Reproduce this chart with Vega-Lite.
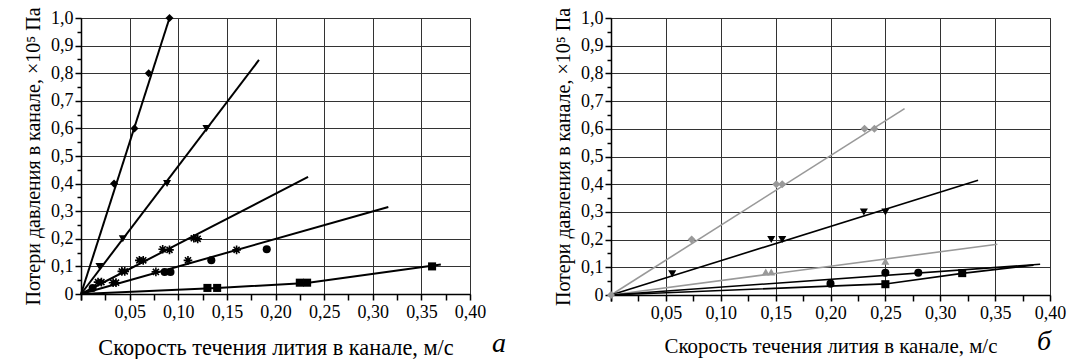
{
  "$schema": "https://vega.github.io/schema/vega-lite/v6.json",
  "padding": {"left": 22, "top": 6, "right": 0, "bottom": 0},
  "autosize": {"type": "pad"},
  "config": {
    "font": "Liberation Serif",
    "view": {"stroke": "#222", "strokeWidth": 1},
    "axis": {
      "labelFont": "Liberation Serif", "labelFontSize": 18, "labelColor": "#000",
      "titleFont": "Liberation Serif", "titleFontWeight": "normal", "titleColor": "#000",
      "domainColor": "#000", "domainWidth": 1.5, "tickColor": "#000", "tickWidth": 1.5,
      "gridColor": "#333", "gridWidth": 1, "labelOverlap": false, "labelBound": false, "labelFlush": false
    },
    "title": {"font": "Liberation Serif", "fontStyle": "italic", "fontWeight": "normal", "fontSize": 28, "color": "#000"}
  },
  "datasets": {
    "pts": [
      {"panel": "a", "series": "a1", "x": 0.034, "y": 0.40},
      {"panel": "a", "series": "a1", "x": 0.055, "y": 0.60},
      {"panel": "a", "series": "a1", "x": 0.0696, "y": 0.80},
      {"panel": "a", "series": "a1", "x": 0.091, "y": 1.00},
      {"panel": "a", "series": "a2", "x": 0.019, "y": 0.10},
      {"panel": "a", "series": "a2", "x": 0.043, "y": 0.20},
      {"panel": "a", "series": "a2", "x": 0.0885, "y": 0.40},
      {"panel": "a", "series": "a2", "x": 0.129, "y": 0.60},
      {"panel": "a", "series": "a3", "x": 0.0175, "y": 0.043},
      {"panel": "a", "series": "a3", "x": 0.021, "y": 0.043},
      {"panel": "a", "series": "a3", "x": 0.033, "y": 0.041},
      {"panel": "a", "series": "a3", "x": 0.036, "y": 0.041},
      {"panel": "a", "series": "a3", "x": 0.042, "y": 0.082},
      {"panel": "a", "series": "a3", "x": 0.045, "y": 0.082},
      {"panel": "a", "series": "a3", "x": 0.060, "y": 0.122},
      {"panel": "a", "series": "a3", "x": 0.064, "y": 0.122},
      {"panel": "a", "series": "a3", "x": 0.084, "y": 0.162},
      {"panel": "a", "series": "a3", "x": 0.091, "y": 0.160},
      {"panel": "a", "series": "a3", "x": 0.116, "y": 0.202},
      {"panel": "a", "series": "a3", "x": 0.120, "y": 0.200},
      {"panel": "a", "series": "a3", "x": 0.077, "y": 0.080},
      {"panel": "a", "series": "a3", "x": 0.110, "y": 0.122},
      {"panel": "a", "series": "a3", "x": 0.160, "y": 0.160},
      {"panel": "a", "series": "a4", "x": 0.012, "y": 0.022},
      {"panel": "a", "series": "a4", "x": 0.086, "y": 0.080},
      {"panel": "a", "series": "a4", "x": 0.092, "y": 0.080},
      {"panel": "a", "series": "a4", "x": 0.134, "y": 0.122},
      {"panel": "a", "series": "a4", "x": 0.191, "y": 0.162},
      {"panel": "a", "series": "a5", "x": 0.130, "y": 0.022},
      {"panel": "a", "series": "a5", "x": 0.140, "y": 0.022},
      {"panel": "a", "series": "a5", "x": 0.225, "y": 0.041},
      {"panel": "a", "series": "a5", "x": 0.2325, "y": 0.041},
      {"panel": "a", "series": "a5", "x": 0.361, "y": 0.100},
      {"panel": "b", "series": "b1", "x": 0.0, "y": 0.0},
      {"panel": "b", "series": "b1", "x": 0.0735, "y": 0.20},
      {"panel": "b", "series": "b1", "x": 0.1506, "y": 0.40},
      {"panel": "b", "series": "b1", "x": 0.156, "y": 0.40},
      {"panel": "b", "series": "b1", "x": 0.231, "y": 0.60},
      {"panel": "b", "series": "b1", "x": 0.240, "y": 0.60},
      {"panel": "b", "series": "b2", "x": 0.0558, "y": 0.077},
      {"panel": "b", "series": "b2", "x": 0.146, "y": 0.20},
      {"panel": "b", "series": "b2", "x": 0.156, "y": 0.20},
      {"panel": "b", "series": "b2", "x": 0.2304, "y": 0.30},
      {"panel": "b", "series": "b2", "x": 0.250, "y": 0.30},
      {"panel": "b", "series": "b3", "x": 0.141, "y": 0.083},
      {"panel": "b", "series": "b3", "x": 0.146, "y": 0.083},
      {"panel": "b", "series": "b3", "x": 0.250, "y": 0.122},
      {"panel": "b", "series": "b4", "x": 0.200, "y": 0.041},
      {"panel": "b", "series": "b4", "x": 0.250, "y": 0.080},
      {"panel": "b", "series": "b4", "x": 0.280, "y": 0.080},
      {"panel": "b", "series": "b5", "x": 0.250, "y": 0.039},
      {"panel": "b", "series": "b5", "x": 0.320, "y": 0.079}
    ],
    "lines": [
      {"panel": "a", "series": "a1", "x": 0.0, "y": 0.0},
      {"panel": "a", "series": "a1", "x": 0.091, "y": 1.0},
      {"panel": "a", "series": "a2", "x": 0.0, "y": 0.0},
      {"panel": "a", "series": "a2", "x": 0.183, "y": 0.848},
      {"panel": "a", "series": "a3", "x": 0.0, "y": 0.0},
      {"panel": "a", "series": "a3", "x": 0.2335, "y": 0.424},
      {"panel": "a", "series": "a4", "x": 0.0, "y": 0.0},
      {"panel": "a", "series": "a4", "x": 0.316, "y": 0.315},
      {"panel": "a", "series": "a5", "x": 0.0, "y": 0.0},
      {"panel": "a", "series": "a5", "x": 0.140, "y": 0.022},
      {"panel": "a", "series": "a5", "x": 0.232, "y": 0.040},
      {"panel": "a", "series": "a5", "x": 0.370, "y": 0.107},
      {"panel": "b", "series": "b1", "x": 0.0, "y": 0.0},
      {"panel": "b", "series": "b1", "x": 0.2675, "y": 0.673},
      {"panel": "b", "series": "b2", "x": 0.0, "y": 0.0},
      {"panel": "b", "series": "b2", "x": 0.3345, "y": 0.414},
      {"panel": "b", "series": "b3", "x": 0.0, "y": 0.0},
      {"panel": "b", "series": "b3", "x": 0.352, "y": 0.183},
      {"panel": "b", "series": "b4", "x": 0.0, "y": 0.0},
      {"panel": "b", "series": "b4", "x": 0.391, "y": 0.111},
      {"panel": "b", "series": "b5", "x": 0.0, "y": 0.0},
      {"panel": "b", "series": "b5", "x": 0.250, "y": 0.040},
      {"panel": "b", "series": "b5", "x": 0.320, "y": 0.078},
      {"panel": "b", "series": "b5", "x": 0.385, "y": 0.108}
    ]
  },
  "hconcat": [
    {
      "width": 389, "height": 276,
      "title": {"text": "а", "orient": "bottom", "anchor": "end", "frame": "group", "dx": 36, "offset": -28},
      "resolve": {"axis": {"x": "independent", "y": "independent"}},
      "layer": [
        {
          "data": {"name": "lines"},
          "transform": [{"filter": "datum.panel == 'a'"}],
          "mark": {"type": "line", "strokeWidth": 2, "clip": false, "color": "#000"},
          "encoding": {
            "x": {"field": "x", "type": "quantitative", "scale": {"domain": [0, 0.4], "nice": false},
              "axis": {"orient": "bottom", "title": null, "labels": false, "grid": false, "domain": false, "tickSize": 6,
                "values": [0,0.025,0.075,0.125,0.175,0.225,0.275,0.325,0.375]}},
            "y": {"field": "y", "type": "quantitative", "scale": {"domain": [0, 1], "nice": false},
              "axis": {"orient": "left", "title": null, "labels": false, "grid": false, "domain": false, "tickSize": 4,
                "values": [0.05,0.15,0.25,0.35,0.45,0.55,0.65,0.75,0.85,0.95]}},
            "detail": {"field": "series"}
          }
        },
        {
          "data": {"name": "pts"},
          "transform": [{"filter": "datum.panel == 'a' && datum.series == 'a3'"}],
          "mark": {"type": "point", "filled": false, "size": 75, "strokeWidth": 1.6, "opacity": 1, "color": "#000",
            "shape": "M-1,0L1,0M0,-1L0,1M-0.7,-0.7L0.7,0.7M-0.7,0.7L0.7,-0.7"},
          "encoding": {
            "x": {"field": "x", "type": "quantitative", "axis": null},
            "y": {"field": "y", "type": "quantitative", "axis": null}
          }
        },
        {
          "data": {"name": "pts"},
          "transform": [{"filter": "datum.panel == 'a' && datum.series != 'a3'"}],
          "mark": {"type": "point", "filled": true, "size": 65, "opacity": 1, "color": "#000"},
          "encoding": {
            "x": {"field": "x", "type": "quantitative",
              "axis": {
                "orient": "bottom", "labelFont": "Liberation Serif", "labelFlush": false,
                "title": "Скорость течения лития в канале, м/с", "titleFontSize": 22.3,
                "values": [0,0.05,0.1,0.15,0.2,0.25,0.3,0.35,0.4],
                "labelExpr": "datum.value == 0 ? '' : replace(format(datum.value, '.2f'), '.', ',')",
                "grid": true, "tickSize": 6, "labelPadding": 3, "titlePadding": 15
              }},
            "y": {"field": "y", "type": "quantitative",
              "axis": {
                "orient": "left", "labelFont": "Liberation Serif", "labelFlush": false,
                "title": "Потери давления в канале, ×10⁵ Па", "titleFontSize": 20,
                "values": [0,0.1,0.2,0.3,0.4,0.5,0.6,0.7,0.8,0.9,1.0],
                "labelExpr": "datum.value == 0 ? '0' : replace(format(datum.value, '.1f'), '.', ',')",
                "grid": true, "tickSize": 6, "labelPadding": 2, "titlePadding": 7
              }},
            "shape": {"field": "series", "type": "nominal", "legend": null,
              "scale": {"domain": ["a1","a2","a4","a5"], "range": ["diamond","triangle-down","circle","square"]}}
          }
        }
      ]
    },
    {
      "width": 439, "height": 277,
      "title": {"text": "б", "orient": "bottom", "anchor": "end", "frame": "group", "dx": 1, "offset": -28},
      "resolve": {"axis": {"x": "independent", "y": "independent"}, "scale": {"color": "independent", "shape": "independent"}},
      "layer": [
        {
          "data": {"name": "lines"},
          "transform": [{"filter": "datum.panel == 'b'"}],
          "mark": {"type": "line", "clip": false},
          "encoding": {
            "x": {"field": "x", "type": "quantitative", "scale": {"domain": [0, 0.4], "nice": false},
              "axis": {"orient": "bottom", "title": null, "labels": false, "grid": false, "domain": false, "tickSize": 6,
                "values": [0,0.025,0.075,0.125,0.175,0.225,0.275,0.325,0.375]}},
            "y": {"field": "y", "type": "quantitative", "scale": {"domain": [0, 1], "nice": false},
              "axis": {"orient": "left", "title": null, "labels": false, "grid": false, "domain": false, "tickSize": 4,
                "values": [0.05,0.15,0.25,0.35,0.45,0.55,0.65,0.75,0.85,0.95]}},
            "detail": {"field": "series"},
            "color": {"field": "series", "type": "nominal", "legend": null,
              "scale": {"domain": ["b1","b2","b3","b4","b5"], "range": ["#999","#000","#999","#000","#000"]}},
            "strokeWidth": {"field": "series", "type": "nominal", "legend": null,
              "scale": {"domain": ["b1","b2","b3","b4","b5"], "range": [1.6,1.6,1.6,2.2,2.2]}}
          }
        },
        {
          "data": {"name": "pts"},
          "transform": [{"filter": "datum.panel == 'b'"}],
          "mark": {"type": "point", "filled": true, "size": 65, "opacity": 1},
          "encoding": {
            "x": {"field": "x", "type": "quantitative",
              "axis": {
                "orient": "bottom", "labelFont": "Liberation Serif", "labelFlush": false,
                "title": "Скорость течения лития в канале, м/с", "titleFontSize": 20.9,
                "values": [0,0.05,0.1,0.15,0.2,0.25,0.3,0.35,0.4],
                "labelExpr": "datum.value == 0 ? '' : replace(format(datum.value, '.2f'), '.', ',')",
                "grid": true, "tickSize": 6, "labelPadding": 3, "titlePadding": 13
              }},
            "y": {"field": "y", "type": "quantitative",
              "axis": {
                "orient": "left", "labelFont": "Liberation Serif", "labelFlush": false,
                "title": "Потери давления в канале, ×10⁵ Па", "titleFontSize": 20,
                "values": [0,0.1,0.2,0.3,0.4,0.5,0.6,0.7,0.8,0.9,1.0],
                "labelExpr": "datum.value == 0 ? '0' : replace(format(datum.value, '.1f'), '.', ',')",
                "grid": true, "tickSize": 6, "labelPadding": 2, "titlePadding": 7
              }},
            "color": {"field": "series", "type": "nominal", "legend": null,
              "scale": {"domain": ["b1","b2","b3","b4","b5"], "range": ["#999","#000","#999","#000","#000"]}},
            "shape": {"field": "series", "type": "nominal", "legend": null,
              "scale": {"domain": ["b1","b2","b3","b4","b5"], "range": ["diamond","triangle-down","triangle-up","circle","square"]}}
          }
        }
      ]
    }
  ],
  "spacing": 45
}
